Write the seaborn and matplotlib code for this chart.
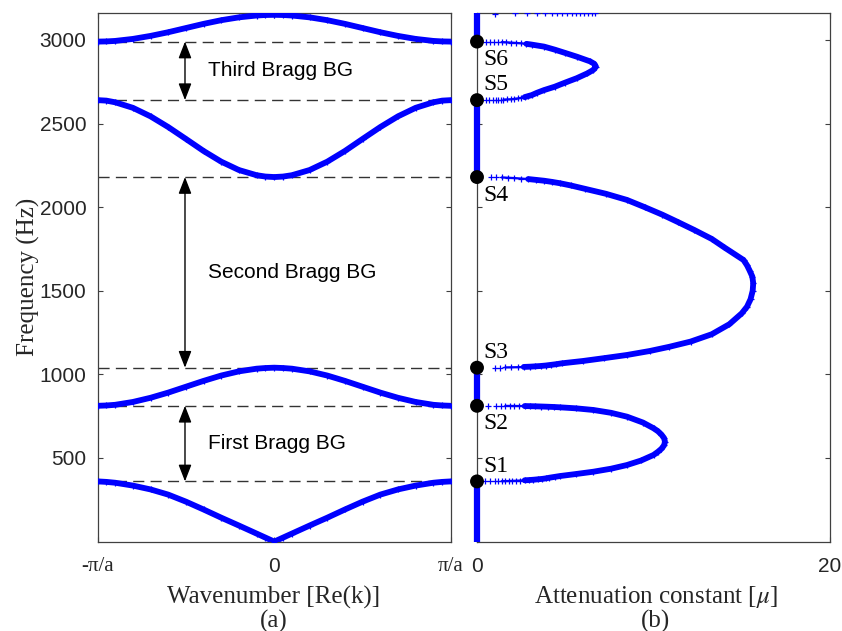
import numpy as np
import pandas as pd
import matplotlib
matplotlib.use("Agg")
import matplotlib.pyplot as plt
import seaborn as sns

# ---------------- data ----------------
# reduced wavenumber (units of pi/a), half zone; curves are mirrored about k = 0
k_half = [0.0, 0.05, 0.1, 0.2, 0.3, 0.4, 0.5, 0.6, 0.7, 0.8, 0.9, 0.95, 1.0]
band1_hz = [0, 24, 48, 96, 143, 192, 239, 281, 312, 335, 352, 357, 360]
band2_hz = [1040, 1038, 1034, 1018, 993, 961, 926, 891, 860, 835, 818, 814, 812]
band3_hz = [2180, 2183, 2191, 2222, 2272, 2336, 2408, 2479, 2543, 2594, 2627, 2637, 2640]
band4_hz = [3150, 3149, 3146, 3135, 3118, 3096, 3071, 3046, 3024, 3006, 2994, 2991, 2990]

# band-gap edge frequencies (Hz) and the points marked on them
edges_hz = [360, 812, 1040, 2180, 2640, 2990]
edge_names = ["S1", "S2", "S3", "S4", "S5", "S6"]
gap_names = ["First Bragg BG", "Second Bragg BG", "Third Bragg BG"]

# attenuation constant inside each gap
gap1_hz = [360.2, 360.5, 360.8, 361.1, 361.5, 362, 362.5, 363.2, 364, 365.2, 366.5,
           368, 370, 372.5, 375, 378, 382, 387, 392, 404, 418,
           436, 458, 485, 518, 537, 555, 576, 597, 619, 640, 660, 678, 712, 747,
           770, 787, 797, 803,
           805, 806.5, 807.8, 809, 809.8, 810.5, 810.9, 811.2, 811.4, 811.6,
           811.7, 811.8, 811.9]
gap1_mu = [0.45, 0.75, 1.0, 1.2, 1.4, 1.6, 1.8, 2.0, 2.2, 2.45, 2.7,
           2.95, 3.2, 3.45, 3.7, 3.9, 4.1, 4.4, 4.7, 5.6, 6.6,
           7.6, 8.5, 9.3, 10.0, 10.25, 10.45, 10.6, 10.65, 10.6, 10.45, 10.25, 10.0,
           9.4, 8.5, 7.6, 6.6, 5.6, 4.7,
           4.35, 4.0, 3.65, 3.3, 3.0, 2.7, 2.4, 2.1, 1.85, 1.6,
           1.35, 1.1, 0.6]

gap2_hz = [1040.6, 1041, 1041.5, 1042.2, 1043, 1044.5, 1046, 1048, 1050, 1053,
           1057, 1061, 1066, 1080, 1097, 1116, 1140,
           1165, 1196, 1240, 1300, 1365, 1405, 1450, 1500, 1545, 1585, 1620, 1652,
           1684, 1760, 1810, 1864,
           1910, 1955, 2000, 2043, 2080, 2110, 2130, 2143, 2151, 2158, 2163, 2168,
           2171, 2174, 2176, 2177.5, 2178.5, 2179.3]
gap2_mu = [1.0, 1.3, 1.6, 1.95, 2.3, 2.65, 3.0, 3.3, 3.6, 3.9,
           4.2, 4.5, 4.8, 6.0, 7.2, 8.5, 9.8,
           10.9, 12.1, 13.3, 14.3, 15.0, 15.3, 15.5, 15.62, 15.65, 15.6, 15.45, 15.3,
           15.1, 14.0, 13.3, 12.3,
           11.4, 10.5, 9.5, 8.5, 7.3, 6.1, 5.3, 4.7, 4.25, 3.8, 3.35, 2.9,
           2.5, 2.1, 1.75, 1.4, 1.1, 0.8]

gap3_hz = [2640.3, 2640.5, 2640.8, 2641.2, 2641.6, 2642.2, 2643, 2644, 2645, 2647.5,
           2650, 2654, 2658, 2664, 2670, 2684, 2700, 2720,
           2745, 2771, 2800, 2820, 2840, 2857, 2872, 2900, 2922, 2942, 2960, 2972,
           2976.5, 2980, 2982.2, 2984, 2985.6, 2987, 2988, 2988.8, 2989.3, 2989.6]
gap3_mu = [0.5, 0.7, 0.9, 1.05, 1.2, 1.35, 1.5, 1.7, 1.9, 2.1,
           2.3, 2.5, 2.7, 2.9, 3.1, 3.4, 3.8, 4.4,
           5.0, 5.65, 6.25, 6.58, 6.74, 6.65, 6.4, 5.65, 5.0, 4.4, 3.8, 3.1,
           2.8, 2.5, 2.2, 1.9, 1.65, 1.4, 1.2, 0.95, 0.75, 0.5]

# start of the next gap above the plotted range
gap4_hz = [3158.0, 3158.4, 3158.8, 3159.1, 3159.4, 3159.7, 3160.0, 3160.3,
           3160.6, 3160.9, 3161.2, 3161.5, 3161.8, 3162.1, 3162.4, 3162.7]
gap4_mu = [1.02, 2.15, 2.85, 3.42, 3.85, 4.23, 4.55, 4.83,
           5.08, 5.37, 5.61, 5.84, 6.06, 6.31, 6.52, 6.69]

f_top = 3164
y_ticks = [500, 1000, 1500, 2000, 2500, 3000]

# ---------------- style ----------------
sns.set_style("ticks")
plt.rcParams["font.family"] = ["Liberation Sans", "DejaVu Sans"]
plt.rcParams["mathtext.fontset"] = "stix"
SERIF = ["Liberation Serif", "DejaVu Serif"]
SANS = ["Liberation Sans", "DejaVu Sans"]
BLUE = "#0000ff"
AXC = "#404040"
TXT = "#262626"

W, H = 842, 631
fig = plt.figure(figsize=(W / 100, H / 100), dpi=100)
bottom = 1 - 541.6 / H
height = (541.6 - 12.5) / H
ax1 = fig.add_axes([97.5 / W, bottom, (451 - 97.5) / W, height])
ax2 = fig.add_axes([477 / W, bottom, (830 - 477) / W, height])

for ax in (ax1, ax2):
    for s in ax.spines.values():
        s.set_color(AXC)
        s.set_linewidth(0.9)
    ax.tick_params(which="both", direction="in", length=3.6, width=0.8,
                   color=AXC, top=True, right=True, labelsize=15,
                   labelcolor=TXT)
    ax.tick_params(axis="y", pad=8)
    ax.tick_params(axis="x", pad=11)
    ax.set_ylim(0, f_top)
    ax.set_yticks(y_ticks)

MK = dict(marker="+", s=18, linewidth=0.9, color=BLUE)

# ---------------- (a) dispersion curves ----------------
k_arr = np.array(k_half)
k_full = np.concatenate([-k_arr[::-1], k_arr[1:]])
for band in (band1_hz, band2_hz, band3_hz, band4_hz):
    b = np.array(band, dtype=float)
    f_full = np.concatenate([b[::-1], b[1:]])
    df = pd.DataFrame({"k": k_full, "f": f_full})
    sns.lineplot(data=df, x="k", y="f", sort=False, estimator=None,
                 color=BLUE, linewidth=4.2, ax=ax1, zorder=3)
    sns.scatterplot(data=df, x="k", y="f", ax=ax1, zorder=3, **MK)

ax1.hlines(edges_hz, -1, 1, colors="#333333", linewidth=1.0,
           linestyles=(0, (8, 4.5)), zorder=2)

arrow_k = -0.505
text_k = -0.375
for lo, hi, name in zip(edges_hz[0::2], edges_hz[1::2], gap_names):
    ax1.annotate("", xy=(arrow_k, hi), xytext=(arrow_k, lo),
                 arrowprops=dict(arrowstyle="<|-|>,head_length=0.85,head_width=0.33",
                                 color="k", lw=1.0, shrinkA=0, shrinkB=0,
                                 mutation_scale=12), zorder=4)
    ax1.text(text_k, (lo + hi) / 2, name, fontsize=15, family=SANS,
             ha="left", va="center", color="k")

ax1.set_xlim(-1, 1)
ax1.set_xticks([-1, 0, 1])
ax1.set_xticklabels(["-π/a", "0", "π/a"])
for lab in ax1.get_xticklabels():
    lab.set_family(SANS if lab.get_text() == "0" else SERIF)
ax1.set_xlabel("")
ax1.set_ylabel("")

# ---------------- (b) attenuation constant ----------------
pass_lo = [0] + edges_hz[1::2]
pass_hi = edges_hz[0::2] + [f_top]
ax2.vlines([0] * len(pass_lo), pass_lo, pass_hi, colors=BLUE, linewidth=4.5,
           clip_on=False, zorder=3)

for fs, mus in ((gap1_hz, gap1_mu), (gap2_hz, gap2_mu), (gap3_hz, gap3_mu)):
    df = pd.DataFrame({"mu": mus, "f": fs})
    # sparse samples near the gap edges show as separate crosses
    core = df[df["mu"] >= 2.6]
    sns.lineplot(data=core, x="mu", y="f", sort=False, estimator=None,
                 color=BLUE, linewidth=4.2, ax=ax2, zorder=3)
    sns.lineplot(data=df[df["mu"] >= 1.4], x="mu", y="f", sort=False,
                 estimator=None, color=BLUE, linewidth=1.6, ax=ax2, zorder=3)
    sns.scatterplot(data=df, x="mu", y="f", ax=ax2, zorder=3, **MK)
sns.scatterplot(x=gap4_mu, y=gap4_hz, ax=ax2, zorder=3, **MK)

sns.scatterplot(x=[0] * len(edges_hz), y=edges_hz, color="k", s=100,
                edgecolor="none", ax=ax2, zorder=6, clip_on=False)
for i, (f, name) in enumerate(zip(edges_hz, edge_names)):
    dy = 11 if i % 2 == 0 else -13
    ax2.annotate(name, xy=(0, f), xytext=(4.5, dy), textcoords="offset points",
                 fontsize=17, family=SERIF, color="k", ha="left", va="center")

ax2.set_xlim(0, 20)
ax2.set_xticks([0, 20])
ax2.tick_params(labelleft=False)
ax2.set_xlabel("")
ax2.set_ylabel("")

# ---------------- axis titles ----------------
fig.text(0.0333, 1 - 277 / H, "Frequency (Hz)", rotation=90, ha="center",
         va="center", fontsize=18, family=SERIF, color=TXT)
fig.text(274 / W, 1 - 597 / H, "Wavenumber [Re(k)]", ha="center", va="center",
         fontsize=18, family=SERIF, color=TXT)
fig.text(274 / W, 1 - 621 / H, "(a)", ha="center", va="center",
         fontsize=18, family=SERIF, color=TXT)
fig.text(656 / W, 1 - 597 / H, r"Attenuation constant [$\mu$]", ha="center",
         va="center", fontsize=18, family=SERIF, color=TXT)
fig.text(656 / W, 1 - 621 / H, "(b)", ha="center", va="center",
         fontsize=18, family=SERIF, color=TXT)

fig.savefig("out.png", dpi=100)
